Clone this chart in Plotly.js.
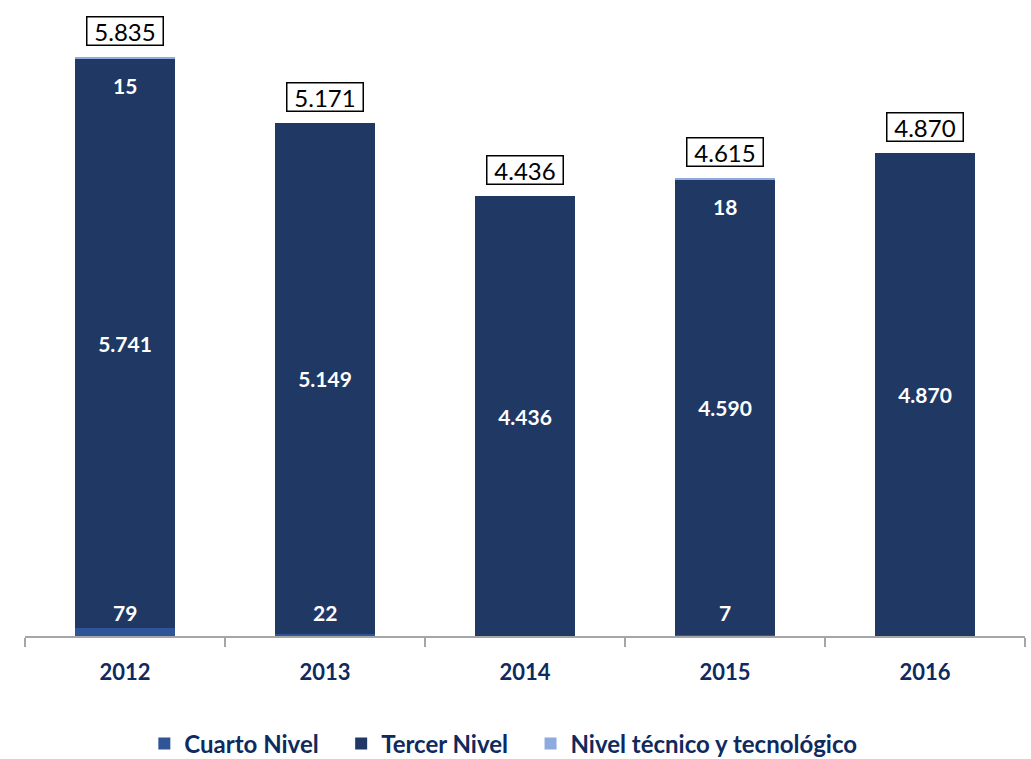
<!DOCTYPE html>
<html>
<head>
<meta charset="utf-8">
<script src="https://cdn.plot.ly/plotly-3.0.1.min.js"></script>
<style>html,body{margin:0;padding:0;background:#fff}#chart{width:1031px;height:759px}</style>
</head>
<body>
<div id="chart"></div>
<script>
var years = ['2012', '2013', '2014', '2015', '2016'];
var cuartoNivel = [79, 22, 0, 7, 0];
var tercerNivel = [5741, 5149, 4436, 4590, 4870];
var nivelTecnico = [15, 0, 0, 18, 0];
var totals = [5835, 5171, 4436, 4615, 4870];
var seriesNames = ['Cuarto Nivel', 'Tercer Nivel', 'Nivel técnico y tecnológico'];

function fmt(v) {
  return String(v).replace(/\B(?=(\d{3})+(?!\d))/g, '.');
}

var font = 'Lato, "Open Sans", sans-serif';
var navyText = '#0E2A5E';
var pad = '\u00a0\u00a0\u00a0';

var traces = [
  {
    type: 'bar', name: seriesNames[0] + pad, x: years, y: cuartoNivel,
    marker: {color: '#2F5597'}, hoverinfo: 'none'
  },
  {
    type: 'bar', name: seriesNames[1] + pad, x: years, y: tercerNivel,
    marker: {color: '#1F3864'},
    text: tercerNivel.map(fmt), textposition: 'inside', insidetextanchor: 'middle',
    textfont: {family: font, size: 21, color: '#ffffff', weight: 'bold'},
    constraintext: 'none', hoverinfo: 'none', textangle: 0
  },
  {
    type: 'bar', name: seriesNames[2], x: years, y: nivelTecnico,
    marker: {color: '#8FAADC'}, hoverinfo: 'none'
  }
];

var annotations = [];
years.forEach(function (yr, i) {
  if (cuartoNivel[i] > 0) {
    annotations.push({x: i, y: 0, yanchor: 'middle', yshift: 24, showarrow: false,
      text: '<b>' + fmt(cuartoNivel[i]) + '</b>', font: {family: font, size: 21, color: '#ffffff'}});
  }
  if (nivelTecnico[i] > 0) {
    annotations.push({x: i, y: totals[i], yanchor: 'middle', yshift: -28, showarrow: false,
      text: '<b>' + fmt(nivelTecnico[i]) + '</b>', font: {family: font, size: 21, color: '#ffffff'}});
  }
  annotations.push({x: i, y: totals[i], yanchor: 'middle', yshift: 26, showarrow: false,
    text: fmt(totals[i]), font: {family: font, size: 24, color: '#000000'},
    width: 73, height: 25, borderpad: 1,
    bordercolor: '#000000', borderwidth: 1.5, bgcolor: '#ffffff'});
});

var layout = {
  width: 1031, height: 759,
  margin: {l: 25, r: 6, t: 41, b: 123},
  paper_bgcolor: '#ffffff', plot_bgcolor: 'rgba(0,0,0,0)',
  barmode: 'stack', bargap: 0.5,
  showlegend: true,
  legend: {orientation: 'h', xref: 'container', yref: 'container', x: 0.14, xanchor: 'left',
    y: 0.02, yanchor: 'middle',
    font: {family: font, size: 24, color: navyText, weight: 'bold'},
    traceorder: 'normal', bgcolor: 'rgba(0,0,0,0)', itemwidth: 30},
  xaxis: {type: 'category', range: [-0.5, 4.5], tickson: 'boundaries', ticks: 'outside', ticklen: 9, tickcolor: '#A6A6A6',
    tickwidth: 1.5, showline: true, linecolor: '#A6A6A6', linewidth: 1.5, showgrid: false,
    ticklabelstandoff: 16,
    tickfont: {family: font, size: 22, color: navyText, weight: 'bold'}},
  yaxis: {range: [0, 6000], visible: false, showgrid: false, zeroline: false},
  annotations: annotations
};

Plotly.newPlot('chart', traces, layout, {displayModeBar: false, staticPlot: true});
</script>
</body>
</html>
